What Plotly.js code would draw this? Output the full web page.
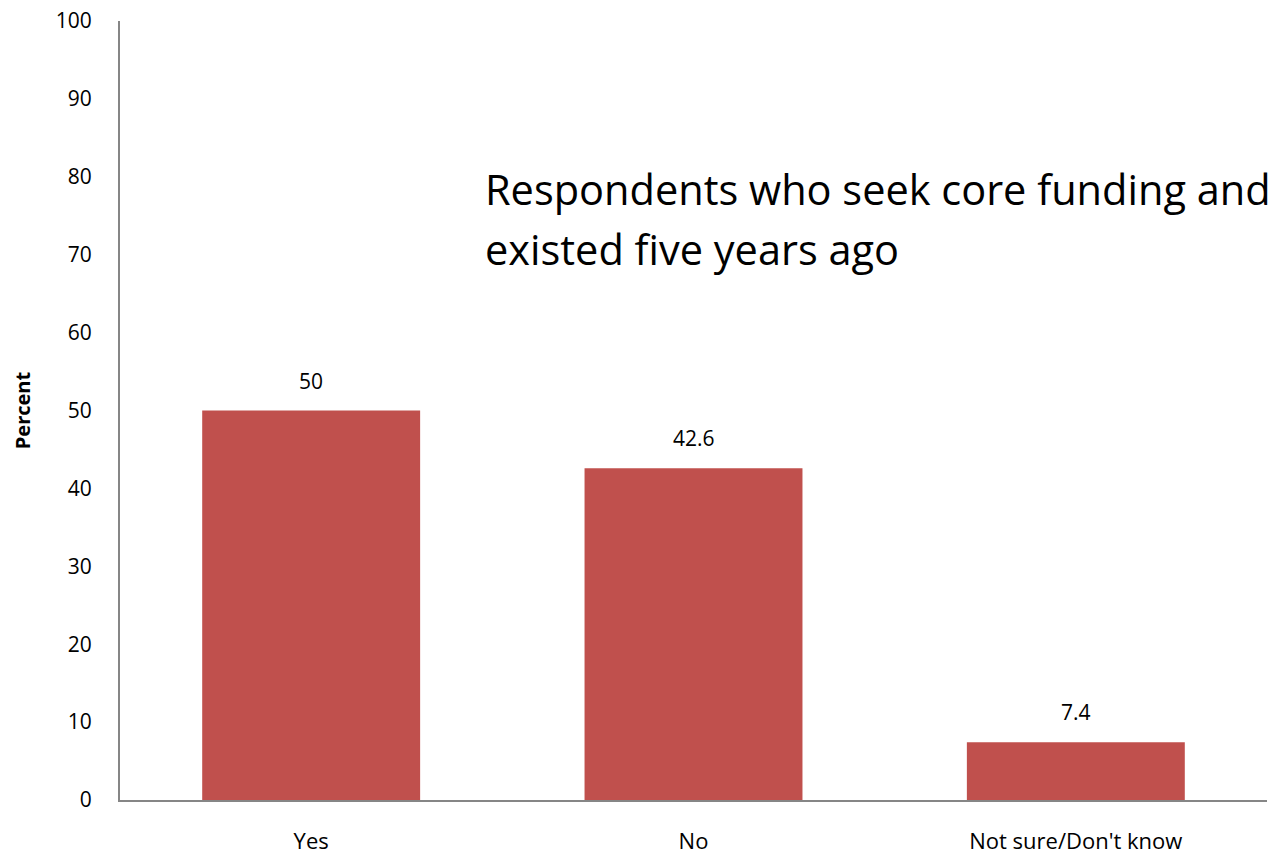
<!DOCTYPE html>
<html>
<head>
<meta charset="utf-8">
<script src="https://cdn.plot.ly/plotly-3.0.1.min.js"></script>
<style>html,body{margin:0;padding:0;background:#fff;}#chart{width:1275px;height:855px;}</style>
</head>
<body>
<div id="chart"></div>
<script>
var categories = ["Yes", "No", "Not sure/Don't know"];
var percentValues = [50, 42.6, 7.4];
var valueLabels = ["50", "42.6", "7.4"];
var yTickValues = [0, 10, 20, 30, 40, 50, 60, 70, 80, 90, 100];

var font = "'Open Sans', 'Noto Sans', sans-serif";

var trace = {
  type: 'bar',
  x: categories,
  y: percentValues,
  marker: {color: '#C0504D'},
  hoverinfo: 'x+y'
};

var annotations = categories.map(function (c, i) {
  return {
    xref: 'x', yref: 'y', x: c, y: percentValues[i],
    text: valueLabels[i], showarrow: false,
    yanchor: 'bottom', yshift: 14,
    font: {family: font, size: 21, color: '#000'}
  };
});
annotations.push({
  xref: 'paper', yref: 'paper',
  x: (483 - 120) / 1147, y: (800 - 159) / 779,
  xanchor: 'left', yanchor: 'top', align: 'left', showarrow: false,
  text: 'Respondents who seek core funding and',
  font: {family: font, size: 41.5, color: '#000'}
});
annotations.push({
  xref: 'paper', yref: 'paper',
  x: (483 - 120) / 1147, y: (800 - 219) / 779,
  xanchor: 'left', yanchor: 'top', align: 'left', showarrow: false,
  text: 'existed five years ago',
  font: {family: font, size: 41.5, color: '#000'}
});

var layout = {
  width: 1275,
  height: 855,
  margin: {l: 120, r: 8, t: 21, b: 55},
  paper_bgcolor: '#fff',
  plot_bgcolor: '#fff',
  bargap: 0.43,
  showlegend: false,
  font: {family: font, color: '#000'},
  xaxis: {
    type: 'category',
    showline: true,
    linecolor: '#868686',
    linewidth: 2,
    ticks: '',
    showgrid: false,
    tickfont: {family: font, size: 22, color: '#000'},
    ticklabelstandoff: 21
  },
  yaxis: {
    range: [0, 100],
    tickvals: yTickValues,
    showline: true,
    linecolor: '#868686',
    linewidth: 2,
    ticks: '',
    showgrid: false,
    zeroline: false,
    tickfont: {family: font, size: 21, color: '#000'},
    ticklabelstandoff: 22,
    title: {text: '<b>Percent</b>', font: {family: font, size: 20, color: '#000'}, standoff: 20}
  },
  annotations: annotations
};

Plotly.newPlot('chart', [trace], layout, {displayModeBar: false, staticPlot: true});
</script>
</body>
</html>
